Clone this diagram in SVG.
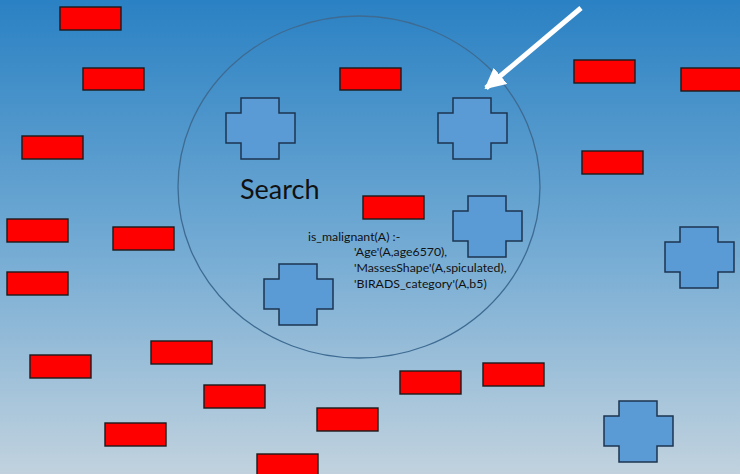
<svg xmlns="http://www.w3.org/2000/svg" width="740" height="474" viewBox="0 0 740 474">
  <defs>
    <linearGradient id="sky" x1="0" y1="0" x2="0" y2="1">
      <stop offset="0" stop-color="#2a81c3"/>
      <stop offset="0.5" stop-color="#70a9d3"/>
      <stop offset="1" stop-color="#c1d2de"/>
    </linearGradient>
    <!-- plus-shaped block, 69 x 61 -->
    <polygon id="plus" points="15,0 53,0 53,15 69,15 69,45 53,45 53,61 15,61 15,45 0,45 0,15 15,15"/>
    <marker id="head" viewBox="0 0 10 10" refX="9" refY="5" markerWidth="4.2" markerHeight="4.2" orient="auto" markerUnits="strokeWidth">
      <path d="M0,0 L10,5 L0,10 Z" fill="#ffffff"/>
    </marker>
  </defs>
  <style>
    .box { fill: #ff0000; stroke: #1a1a1a; stroke-width: 1.4; }
    .plus { fill: #5b9bd5; stroke: #1d3550; stroke-width: 1.5; }
    .ring { fill: none; stroke: #3e6b92; stroke-width: 1.3; }
    .title { font-family: Lato, "Liberation Sans", sans-serif; font-size: 27px; fill: #111111; }
    .rule { font-family: Lato, "Liberation Sans", sans-serif; font-size: 12.3px; fill: #111111; }
  </style>

  <rect x="0" y="0" width="740" height="474" fill="url(#sky)"/>

  <!-- search area -->
  <g id="search">
    <ellipse class="ring" cx="359" cy="187" rx="181" ry="171"/>
    <text class="title" x="240" y="199">Search</text>
  </g>

  <!-- red blocks -->
  <g id="boxes">
    <rect id="box1" class="box" x="60" y="7" width="61" height="23"/>
    <rect id="box2" class="box" x="83" y="68" width="61" height="22"/>
    <rect id="box3" class="box" x="22" y="136" width="61" height="23"/>
    <rect id="box4" class="box" x="7" y="219" width="61" height="23"/>
    <rect id="box5" class="box" x="113" y="227" width="61" height="23"/>
    <rect id="box6" class="box" x="7" y="272" width="61" height="23"/>
    <rect id="box7" class="box" x="30" y="355" width="61" height="23"/>
    <rect id="box8" class="box" x="151" y="341" width="61" height="23"/>
    <rect id="box9" class="box" x="204" y="385" width="61" height="23"/>
    <rect id="box10" class="box" x="105" y="423" width="61" height="23"/>
    <rect id="box11" class="box" x="257" y="454" width="61" height="23"/>
    <rect id="box12" class="box" x="317" y="408" width="61" height="23"/>
    <rect id="box13" class="box" x="400" y="371" width="61" height="23"/>
    <rect id="box14" class="box" x="483" y="363" width="61" height="23"/>
    <rect id="box15" class="box" x="340" y="68" width="61" height="22"/>
    <rect id="box16" class="box" x="363" y="196" width="61" height="23"/>
    <rect id="box17" class="box" x="574" y="60" width="61" height="23"/>
    <rect id="box18" class="box" x="681" y="68" width="61" height="23"/>
    <rect id="box19" class="box" x="582" y="151" width="61" height="23"/>
  </g>

  <!-- blue plus blocks -->
  <g id="plus1"><use href="#plus" class="plus" x="226" y="98"/></g>
  <g id="plus2"><use href="#plus" class="plus" x="438" y="98"/></g>
  <g id="plus3"><use href="#plus" class="plus" x="453" y="196"/></g>
  <g id="plus4"><use href="#plus" class="plus" x="665" y="227"/></g>
  <g id="plus5"><use href="#plus" class="plus" x="264" y="264"/></g>
  <g id="plus6"><use href="#plus" class="plus" x="604" y="401"/></g>

  <!-- rule text -->
  <g id="rule">
    <text class="rule" x="308" y="241">is_malignant(A) :-</text>
    <text class="rule" x="354" y="256">'Age'(A,age6570),</text>
    <text class="rule" x="354" y="272">'MassesShape'(A,spiculated),</text>
    <text class="rule" x="354" y="288">'BIRADS_category'(A,b5)</text>
  </g>

  <!-- pointer -->
  <g id="connectors">
    <line x1="581" y1="8" x2="486" y2="88" stroke="#ffffff" stroke-width="5" marker-end="url(#head)"/>
  </g>
</svg>
